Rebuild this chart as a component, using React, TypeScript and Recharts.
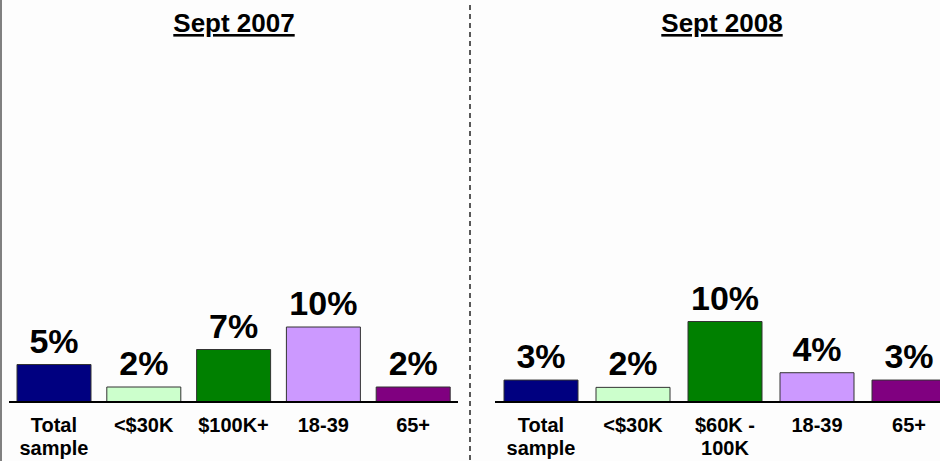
import React from 'react';
import { BarChart, Bar, XAxis, YAxis, Cell, LabelList } from 'recharts';

// Sept 2007 panel
const categories2007 = ['Total\nsample', '<$30K', '$100K+', '18-39', '65+'];
const values2007 = [5, 2, 7, 10, 2];
const labels2007 = ['5%', '2%', '7%', '10%', '2%'];

// Sept 2008 panel
const categories2008 = ['Total\nsample', '<$30K', '$60K -\n100K', '18-39', '65+'];
const values2008 = [3, 2, 11, 4, 3];
const labels2008 = ['3%', '2%', '10%', '4%', '3%'];

const barColors = ['#000080', '#CCFFCC', '#008000', '#CC99FF', '#800080'];

const FONT = '"Liberation Sans", Arial, Helvetica, sans-serif';

const MultiLineTick = (props: any) => {
  const { x, y, payload } = props;
  const lines = String(payload.value).split('\n');
  return (
    <text x={x} y={y} textAnchor="middle" fontFamily={FONT} fontSize={20} fontWeight="bold" fill="#000">
      {lines.map((line, i) => (
        <tspan key={i} x={x} dy={i === 0 ? 30 : 23}>
          {line}
        </tspan>
      ))}
    </text>
  );
};

interface PanelProps {
  categories: string[];
  values: number[];
  labels: string[];
  width: number;
  left: number;
  marginLeft: number;
  marginRight: number;
  yMax: number;
}

const Panel = ({ categories, values, labels, width, left, marginLeft, marginRight, yMax }: PanelProps) => {
  const data = categories.map((name, i) => ({ name, value: values[i], label: labels[i] }));

  const renderLabel = (p: any) => {
    const { x, y, width: w, index } = p;
    return (
      <text
        x={x + w / 2}
        y={y - 12}
        textAnchor="middle"
        fontFamily={FONT}
        fontSize={34}
        fontWeight="bold"
        fill="#000"
      >
        {data[index].label}
      </text>
    );
  };

  return (
    <div style={{ position: 'absolute', left, top: 0 }}>
      <BarChart
        width={width}
        height={461}
        data={data}
        margin={{ top: 102, right: marginRight, bottom: 4, left: marginLeft }}
        barCategoryGap={0}
        style={{ overflow: 'visible' }}
      >
        <YAxis hide domain={[0, yMax]} />
        <XAxis
          dataKey="name"
          interval={0}
          height={55}
          tickSize={0}
          tickMargin={0}
          tickLine={false}
          axisLine={{ stroke: '#000', strokeWidth: 2 }}
          tick={<MultiLineTick />}
        />
        <Bar dataKey="value" barSize={74} stroke="#333" strokeWidth={1} isAnimationActive={false}>
          {data.map((d, i) => (
            <Cell key={d.name} fill={barColors[i % barColors.length]} />
          ))}
          <LabelList dataKey="label" content={renderLabel} />
        </Bar>
      </BarChart>
    </div>
  );
};

export default function App() {
  return (
    <div
      style={{
        position: 'absolute',
        left: 0,
        top: 0,
        width: 940,
        height: 461,
        overflow: 'hidden',
        background: '#fdfdfd',
      }}
    >
      <Panel
        categories={categories2007}
        values={values2007}
        labels={labels2007}
        width={470}
        left={0}
        marginLeft={9}
        marginRight={12}
        yMax={40}
      />
      <Panel
        categories={categories2008}
        values={values2008}
        labels={labels2008}
        width={490}
        left={470}
        marginLeft={25}
        marginRight={5}
        yMax={41}
      />
      <svg width={940} height={461} style={{ position: 'absolute', left: 0, top: 0, pointerEvents: 'none' }}>
        <line x1={1} y1={0} x2={1} y2={461} stroke="#808080" strokeWidth={2} />
        <line x1={470} y1={5} x2={470} y2={461} stroke="#222" strokeWidth={1.5} strokeDasharray="5 4" />
        <text
          x={234}
          y={32}
          textAnchor="middle"
          fontFamily={FONT}
          fontSize={26}
          fontWeight="bold"
          style={{ textDecoration: 'underline' }}
        >
          Sept 2007
        </text>
        <text
          x={722}
          y={32}
          textAnchor="middle"
          fontFamily={FONT}
          fontSize={26}
          fontWeight="bold"
          style={{ textDecoration: 'underline' }}
        >
          Sept 2008
        </text>
      </svg>
    </div>
  );
}
